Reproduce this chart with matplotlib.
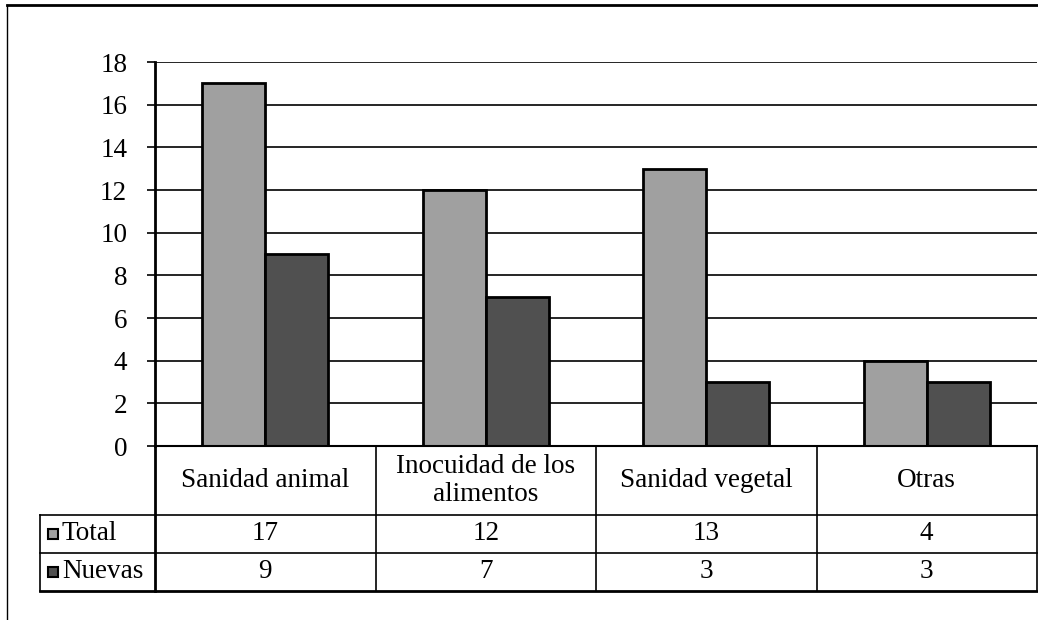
import matplotlib
matplotlib.use("Agg")
import matplotlib.pyplot as plt
from matplotlib.lines import Line2D
from matplotlib.patches import Rectangle

categorias = ["Sanidad animal", "Inocuidad de los\nalimentos", "Sanidad vegetal", "Otras"]
series = ["Total", "Nuevas"]
total = [17, 12, 13, 4]
nuevas = [9, 7, 3, 3]
colores = ["#a0a0a0", "#505050"]
yticks = [0, 2, 4, 6, 8, 10, 12, 14, 16, 18]

plt.rcParams["font.family"] = ["Liberation Serif", "DejaVu Serif"]
FS = 19.5

W, H = 1038, 620
fig = plt.figure(figsize=(W / 100, H / 100), dpi=100)

# pixel helpers (y from top)
def fx(px):
    return px / W

def fy(py):
    return 1 - py / H

x_left, x_right = 155, 1037
y_top, y_zero = 62, 446
ax = fig.add_axes([fx(x_left), fy(y_zero), fx(x_right - x_left), fy(y_top) - fy(y_zero)])

n = len(categorias)
ancho = 0.286
pos = list(range(n))
ax.bar([p - ancho / 2 for p in pos], total, width=ancho, color=colores[0],
       edgecolor="black", linewidth=2, zorder=3)
ax.bar([p + ancho / 2 for p in pos], nuevas, width=ancho, color=colores[1],
       edgecolor="black", linewidth=2, zorder=3)

ax.set_xlim(-0.5, n - 0.5)
ax.set_ylim(0, 18)
ax.set_yticks(yticks)
ax.set_yticklabels([str(v) for v in yticks], fontsize=FS)
ax.set_xticks([])
ax.yaxis.grid(True, color="black", linewidth=1.2)
ax.set_axisbelow(True)
ax.tick_params(axis="y", direction="out", length=6, width=1.2, pad=14)
for s in ["top", "right", "bottom"]:
    ax.spines[s].set_visible(False)
ax.spines["left"].set_linewidth(2)

# data table below the plot (same x scale as the bars)
unit = (x_right - x_left) / n
tab_left = 40
tab_bottom = 591
tab = fig.add_axes([fx(tab_left), fy(tab_bottom), fx(x_right - tab_left), fy(y_zero) - fy(tab_bottom)])
tab.set_xlim(-0.5 - (x_left - tab_left) / unit, n - 0.5)
row_h = 38
cat_h = tab_bottom - y_zero - 2 * row_h
tab.set_ylim(0, 2 * row_h + cat_h)
tab.axis("off")

def hline(y, x0, x1, lw=1.2):
    tab.add_line(Line2D([x0, x1], [y, y], color="black", linewidth=lw, clip_on=False))

def vline(x, y0, y1, lw=1.2):
    tab.add_line(Line2D([x, x], [y0, y1], color="black", linewidth=lw, clip_on=False))

xl = tab.get_xlim()[0]
ytop = 2 * row_h + cat_h
hline(ytop, -0.5, n - 0.5, 1.5)
hline(2 * row_h, xl, n - 0.5)
hline(row_h, xl, n - 0.5)
hline(0, xl, n - 0.5, 2)
vline(xl, 0, 2 * row_h)
vline(-0.5, 0, ytop, 2)
for i in range(1, n):
    vline(i - 0.5, 0, ytop)
vline(n - 0.5, 0, ytop)

for i, c in enumerate(categorias):
    tab.text(i, 2 * row_h + cat_h / 2, c, ha="center", va="center", fontsize=FS,
             linespacing=1.15)
    tab.text(i, row_h * 1.5, str(total[i]), ha="center", va="center", fontsize=FS)
    tab.text(i, row_h * 0.5, str(nuevas[i]), ha="center", va="center", fontsize=FS)

# legend keys inside the table
key_w = 10 / unit
for j, (nombre, col) in enumerate(zip(series, colores)):
    yc = row_h * (1.5 - j)
    tab.add_patch(Rectangle((xl + 8 / unit, yc - 5), key_w, 10, facecolor=col,
                            edgecolor="black", linewidth=1.5, clip_on=False))
    tab.text(xl + 22 / unit, yc, nombre, ha="left", va="center", fontsize=FS)

# outer frame
fig.add_artist(Line2D([fx(7), 1], [fy(5), fy(5)], color="black", linewidth=2))
fig.add_artist(Line2D([fx(7), fx(7)], [fy(5), 0], color="black", linewidth=1))

fig.savefig("out.png", dpi=100)
